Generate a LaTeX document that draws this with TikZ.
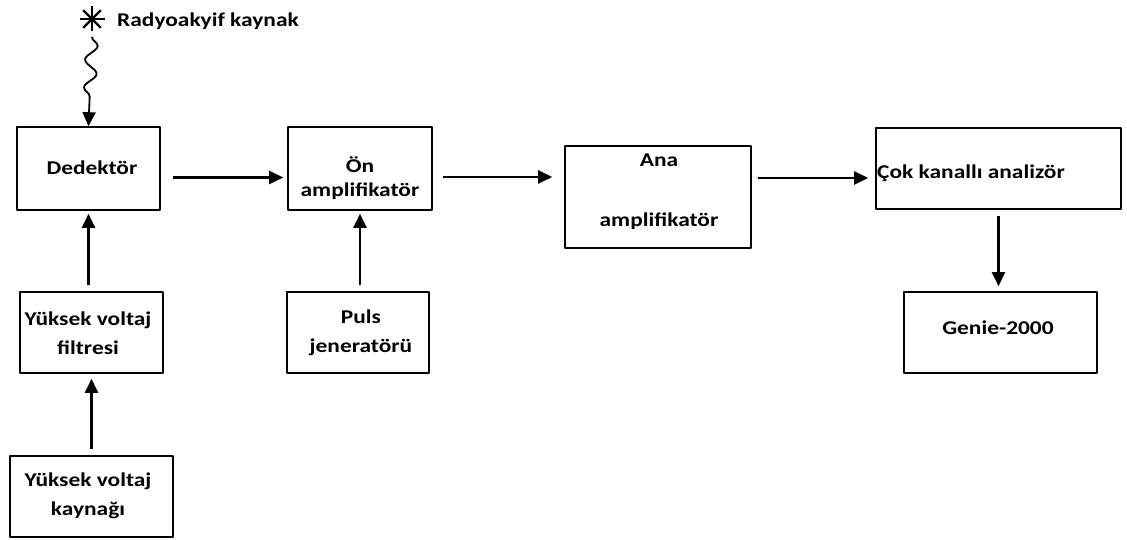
\documentclass[tikz,border=0pt]{standalone}
\usepackage{fontspec}
\setmainfont{Carlito}[FakeStretch=1.2]
\usetikzlibrary{arrows.meta,decorations.pathmorphing}

\begin{document}
\begin{tikzpicture}[>={Triangle[length=14bp,width=13bp]},line join=bevel,
  box/.style={draw,line width=1.6bp,inner sep=0pt},
  lbl/.style={inner sep=0pt,font=\fontsize{19.5bp}{29bp}\selectfont\bfseries,align=center},
  flow/.style={->,line width=2.2bp}]
  \useasboundingbox (0bp,0bp) rectangle (1127bp,540bp);
%%
\begin{scope}
  \definecolor{fillcol}{rgb}{1.0,1.0,1.0};
  \pgfsetfillcolor{fillcol}
  \fill (0.0bp,0.0bp) -- (0.0bp,540.0bp) -- (1127.0bp,540.0bp) -- (1127.0bp,0.0bp) -- cycle;
\end{scope}
  \pgfsetcolor{black}
  % Node: dedektor
  \node[box,minimum width=143bp,minimum height=83bp] (dedektor) at (88.5bp,371.5bp) {};
  \node[lbl] (dedektor-t) at (92.0bp,372.0bp) {Dedektör};
  % Node: onamp
  \node[box,minimum width=144bp,minimum height=83bp] (onamp) at (360.0bp,371.5bp) {};
  \node[lbl] (onamp-t) at (360.0bp,362.0bp) {Ön\\[-5bp]amplifikatör};
  % Node: anaamp
  \node[box,minimum width=186bp,minimum height=102bp] (anaamp) at (658.0bp,343.0bp) {};
  \node[lbl] (anaamp-t) at (659.0bp,348.5bp) {Ana\\[31bp]amplifikatör};
  % Node: cok
  \node[box,minimum width=245bp,minimum height=81bp] (cok) at (998.5bp,371.5bp) {};
  \node[lbl,anchor=west] (cok-t) at (877.0bp,367.0bp) {Çok kanallı analizör};
  % Node: genie
  \node[box,minimum width=193bp,minimum height=81bp] (genie) at (1000.5bp,207.5bp) {};
  \node[lbl] (genie-t) at (998.0bp,212.0bp) {Genie-2000};
  % Node: filtre
  \node[box,minimum width=143bp,minimum height=81bp] (filtre) at (91.5bp,207.5bp) {};
  \node[lbl] (filtre-t) at (88.0bp,207.0bp) {Yüksek voltaj\\filtresi};
  % Node: puls
  \node[box,minimum width=142bp,minimum height=81bp] (puls) at (358.0bp,207.5bp) {};
  \node[lbl] (puls-t) at (361.0bp,207.0bp) {Puls\\jeneratörü};
  % Node: kaynak
  \node[box,minimum width=163bp,minimum height=81bp] (kaynak) at (91.5bp,43.5bp) {};
  \node[lbl] (kaynak-t) at (88.0bp,44.0bp) {Yüksek voltaj\\kaynağı};
  % Node: source
  \coordinate (star) at (92.0bp,521.0bp);
  \foreach \a in {0,45,90,135}
    \draw[line width=2.2bp] ([shift={(\a:12.5bp)}]star) -- ([shift={(\a+180:12.5bp)}]star);
  \node[lbl,anchor=base west] (star-t) at (117.0bp,513.3bp) {Radyoakyif kaynak};
  \coordinate (ray) at (92.0bp,503.0bp);
  % Edge: source -> dedektor
  \draw[flow,line width=1.8bp,decorate,decoration={snake,amplitude=6bp,segment length=28bp,post length=17bp}] (ray) -- (dedektor.north);
  % Edge: dedektor -> onamp
  \draw[flow,shorten <=12bp,shorten >=4bp] ([yshift=-9bp]dedektor.east) coordinate (d1) -- (d1 -| onamp.west);
  % Edge: onamp -> anaamp
  \draw[flow,shorten <=10bp,shorten >=12bp] ([yshift=-8.5bp]onamp.east) coordinate (d2) -- (d2 -| anaamp.west);
  % Edge: anaamp -> cok
  \draw[flow,shorten <=7bp,shorten >=6bp] ([yshift=-9.5bp]cok.west) coordinate (d3) -- (d3 -| anaamp.east) [<-];
  % Edge: cok -> genie
  \draw[flow,shorten <=6bp,shorten >=5bp] (cok.south) -- (cok.south |- genie.north);
  % Edge: filtre -> dedektor
  \draw[flow,shorten <=6bp,shorten >=3bp] (dedektor.south |- filtre.north) -- (dedektor.south);
  % Edge: kaynak -> filtre
  \draw[flow,shorten <=6bp,shorten >=5bp] (filtre.south |- kaynak.north) -- (filtre.south);
  % Edge: puls -> onamp
  \draw[flow,shorten <=6bp,shorten >=3bp] (onamp.south |- puls.north) -- (onamp.south);
%
\end{tikzpicture}
\end{document}
